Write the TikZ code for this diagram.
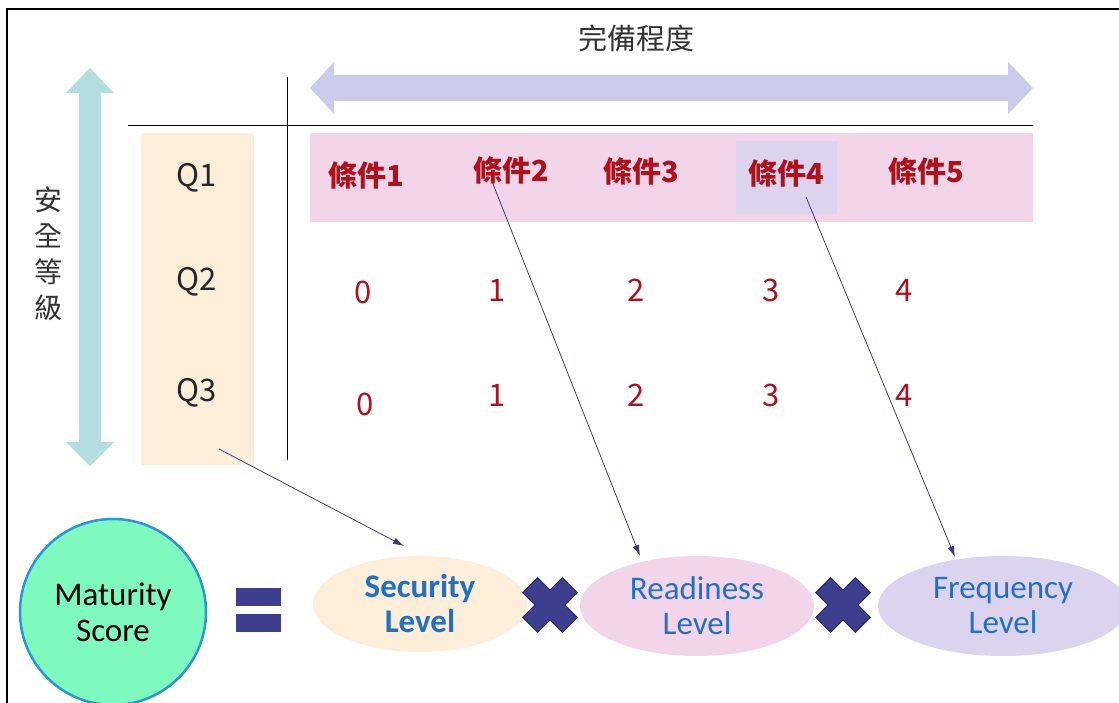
\documentclass[tikz,border=0pt]{standalone}
\usepackage{fontspec}
\setmainfont{Carlito}
\newfontfamily\cjk{Noto Sans CJK TC}
\usetikzlibrary{arrows.meta,shapes.geometric}
\definecolor{tealarr}{HTML}{B4DDE0}
\definecolor{lavarr}{HTML}{CBCBEB}
\definecolor{cream}{HTML}{FCEED9}
\definecolor{pinkband}{HTML}{F2D5E9}
\definecolor{lavhl}{HTML}{DCD4EE}
\definecolor{redtxt}{HTML}{B0101A}
\definecolor{bluetxt}{HTML}{2070C8}
\definecolor{navy}{HTML}{3E3E8E}
\definecolor{mint}{HTML}{7EFABE}
\definecolor{circstroke}{HTML}{2A96D6}
\definecolor{connc}{HTML}{3B3B8A}
\tikzset{
  cond/.style={text=redtxt, font=\cjk\bfseries\fontsize{29}{34}\selectfont, inner sep=0pt},
  num/.style={text=redtxt, font=\cjk\fontsize{31}{34}\selectfont, inner sep=0pt},
  qlab/.style={text=black!85, font=\cjk\fontsize{31}{34}\selectfont, inner sep=0pt},
  lvl/.style={ellipse, text=bluetxt, align=center, font=\fontsize{33}{35}\selectfont, inner sep=0pt},
  conn/.style={draw=connc, line width=0.8pt, -{Latex[length=11pt,width=7pt]}},
  xmark/.style={fill=navy, draw=navy!70!black, line width=1pt},
}
\begin{document}
\begin{tikzpicture}[x=1pt,y=-1pt]
\useasboundingbox (0,0) rectangle (1119,703);
\fill[white] (0,0) rectangle (1119,703);
% frame
\draw[line width=2pt] (7,703) -- (7,9) -- (1119,9);
% title
\node[font=\cjk\fontsize{29}{32}\selectfont, text=black!80] (title) at (636,38) {完備程度};
% horizontal double arrow
\fill[lavarr] (310,88) -- (334,62) -- (334,75) -- (1008,75) -- (1008,62) -- (1033,88)
  -- (1008,114) -- (1008,101) -- (334,101) -- (334,114) -- cycle;
% vertical double arrow
\fill[tealarr] (90,68) -- (114,93) -- (101,93) -- (101,442) -- (114,442) -- (90,466)
  -- (66,442) -- (79,442) -- (79,93) -- (66,93) -- cycle;
% vertical label
\node[font=\cjk\fontsize{28}{36}\selectfont, text=black!80, align=center, inner sep=0pt] (vlab) at (48,254) {安\\全\\等\\級};
% grid lines
\draw[line width=1pt] (287,77) -- (287,460);
\draw[line width=1pt] (128,126) -- (1033,126);
% Q column
\fill[cream] (141,133) rectangle (254,465);
\node[qlab] (q1) at (197,178) {Q1};
\node[qlab] (q2) at (197,282) {Q2};
\node[qlab] (q3) at (197,393) {Q3};
% pink band
\fill[pinkband] (310,133) rectangle (1033,222);
\fill[lavhl] (736,141) rectangle (837,214);
\node[cond] (c1) at (366,175) {條件1};
\node[cond] (c2) at (511,170) {條件2};
\node[cond] (c3) at (641,171) {條件3};
\node[cond] (c4) at (786,173) {條件4};
\node[cond] (c5) at (926,171) {條件5};
% numbers
\node[num] (a0) at (363,292) {0};
\node[num] (a1) at (497,290) {1};
\node[num] (a2) at (636,290) {2};
\node[num] (a3) at (771,290) {3};
\node[num] (a4) at (904,290) {4};
\node[num] (b0) at (365,404) {0};
\node[num] (b1) at (497,395) {1};
\node[num] (b2) at (636,395) {2};
\node[num] (b3) at (771,395) {3};
\node[num] (b4) at (904,395) {4};
% maturity circle
\node[circle, fill=mint, draw=circstroke, line width=2.5pt, minimum size=186pt, align=center,
  font=\fontsize{33}{36}\selectfont, text=black] (ms) at (113,612) {Maturity\\Score};
% equal sign
\fill[navy] (236,588) rectangle (281,606);
\fill[navy] (236,614) rectangle (281,632);
% level ellipses
\node[lvl, fill=cream, minimum width=214pt, minimum height=96pt, font=\bfseries\fontsize{33}{35}\selectfont] (sec) at (420,604) {Security\\Level};
\node[lvl, fill=pinkband, minimum width=234pt, minimum height=100pt] (rea) at (697,606) {Readiness\\Level};
\node[lvl, fill=lavhl, minimum width=250pt, minimum height=100pt] (fre) at (1003,606) {Frequency\\Level};
% X marks
\foreach \cx/\nm in {550/x1, 843/x2}{
  \begin{scope}[shift={(\cx,605)}, rotate=45]
    \draw[xmark] (28,10.5) -- (10.5,10.5) -- (10.5,28) -- (-10.5,28) -- (-10.5,10.5) -- (-28,10.5)
      -- (-28,-10.5) -- (-10.5,-10.5) -- (-10.5,-28) -- (10.5,-28) -- (10.5,-10.5) -- (28,-10.5) -- cycle;
  \end{scope}
}
% connectors
\coordinate (qs) at (219,449);
\coordinate (se) at (404,546);
\coordinate (c2s) at (493,184);
\coordinate (re) at (640,556);
\coordinate (c4s) at (806,197);
\coordinate (fe) at (955,557);
\draw[conn] (qs) -- (se);
\draw[conn] (c2s) -- (re);
\draw[conn] (c4s) -- (fe);
\end{tikzpicture}
\end{document}
